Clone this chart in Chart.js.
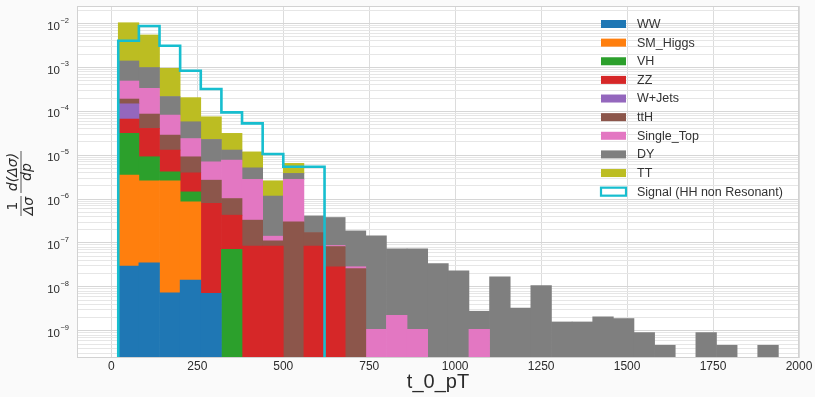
<!DOCTYPE html>
<html>
<head>
<meta charset="utf-8">
<script src="https://cdn.jsdelivr.net/npm/chart.js@4.4.0/dist/chart.umd.min.js"></script>
<style>
    html, body { margin: 0; padding: 0; background: #fafafa; }
    #wrap { width: 815px; height: 397px; }
</style>
</head>
<body>
<div id="wrap"><canvas id="myChart" width="815" height="397"></canvas></div>
<script>
/* t_0_pT: stacked background histograms + signal outline, log y */
const edges = [20, 80, 140, 200, 260, 320, 380, 440, 500, 560, 620, 680, 740, 800, 860, 920, 980,
    1040, 1100, 1160, 1220, 1280, 1340, 1400, 1460, 1520, 1580, 1640, 1700, 1760, 1820, 1880, 1940];

const WW = [2.96e-8, 3.52e-8, 7.3e-9, 1.42e-8, 7.1e-9, 0, 0, 0, 0, 0, 0, 0, 0, 0, 0, 0,
    0, 0, 0, 0, 0, 0, 0, 0, 0, 0, 0, 0, 0, 0, 0, 0];
const SM_Higgs = [3.49e-6, 2.57e-6, 2.6e-6, 8.5e-7, 0, 0, 0, 0, 0, 0, 0, 0, 0, 0, 0, 0,
    0, 0, 0, 0, 0, 0, 0, 0, 0, 0, 0, 0, 0, 0, 0, 0];
const VH = [2.79e-5, 6.6e-6, 1.57e-6, 5.95e-7, 0, 7.2e-8, 0, 0, 0, 0, 0, 0, 0, 0, 0, 0,
    0, 0, 0, 0, 0, 0, 0, 0, 0, 0, 0, 0, 0, 0, 0, 0];
const ZZ = [3.51e-5, 3.16e-5, 8.9e-6, 2.5e-6, 7.9e-7, 3.58e-7, 8.45e-8, 8.45e-8, 0, 8.45e-8, 2.85e-8, 0, 0, 0, 0, 0,
    0, 0, 0, 0, 0, 0, 0, 0, 0, 0, 0, 0, 0, 0, 0, 0];
const WJets = [8.15e-5, 0, 0, 0, 0, 0, 0, 0, 0, 0, 0, 0, 0, 0, 0, 0,
    0, 0, 0, 0, 0, 0, 0, 0, 0, 0, 0, 0, 0, 0, 0, 0];
const ttH = [4.2e-5, 4.57e-5, 1.56e-5, 5.23e-6, 1.9e-6, 6.0e-7, 2.47e-7, 2.75e-8, 3.03e-7, 8.85e-8, 5.47e-8, 2.6e-8, 0, 0, 0, 0,
    0, 0, 0, 0, 0, 0, 0, 0, 0, 0, 0, 0, 0, 0, 0, 0];
const Single_Top = [2.99e-4, 2.47e-4, 5.33e-5, 1.47e-5, 4.36e-6, 6.7e-6, 2.48e-6, 3.1e-8, 2.51e-6, 0, 4.5e-9, 2.8e-9, 1.08e-9, 2.26e-9, 1.08e-9, 0,
    0, 1.08e-9, 0, 0, 0, 0, 0, 0, 0, 0, 0, 0, 0, 0, 0, 0];
const DY = [9.11e-4, 6.6e-4, 1.35e-4, 3.38e-5, 1.58e-5, 5.37e-6, 2.34e-6, 1.03e-6, 1.04e-6, 2.42e-7, 2.93e-7, 1.6e-7, 1.44e-7, 7.1e-8, 7.22e-8, 3.41e-8,
    2.31e-8, 1.71e-9, 1.69e-8, 3.31e-9, 1.07e-8, 1.59e-9, 1.59e-9, 2.07e-9, 1.9e-9, 9.1e-10, 4.68e-10, 0, 9.1e-10, 4.68e-10, 0, 4.68e-10];
const TT = [9.0e-3, 4.48e-3, 7.36e-4, 1.47e-4, 5.21e-5, 1.83e-5, 6.75e-6, 1.44e-6, 2.65e-6, 0, 0, 0, 0, 0, 0, 0,
    0, 0, 0, 0, 0, 0, 0, 0, 0, 0, 0, 0, 0, 0, 0, 0];
// signal only fills the first 10 bins
const signal = [4.05e-3, 8.77e-3, 3.12e-3, 8.39e-4, 3.21e-4, 9.44e-5, 5.31e-5, 1.06e-5, 5.43e-6, 5.43e-6];

const names = ['WW', 'SM_Higgs', 'VH', 'ZZ', 'W+Jets', 'ttH', 'Single_Top', 'DY', 'TT'];
const series = [WW, SM_Higgs, VH, ZZ, WJets, ttH, Single_Top, DY, TT];
const colors = ['#1f77b4', '#ff7f0e', '#2ca02c', '#d62728', '#9467bd', '#8c564b', '#e377c2', '#7f7f7f', '#bcbd22'];
const signalName = 'Signal (HH non Resonant)';
const signalColor = '#17becf';

const xTicks = [0, 250, 500, 750, 1000, 1250, 1500, 1750, 2000];
const yDecades = [-9, -8, -7, -6, -5, -4, -3, -2];
const X_MIN = -100, X_MAX = 2000;
const Y_MIN = 2.4e-10, Y_MAX = 2.5e-2;

const centers = [];
for (let i = 0; i < edges.length - 1; i++) {
    centers.push((edges[i] + edges[i + 1]) / 2);
}

const datasets = series.map((vals, k) => ({
    type: 'bar',
    label: names[k],
    data: vals.map((v, i) => ({x: centers[i], y: v > 0 ? v : null})),
    backgroundColor: colors[k],
    borderWidth: 0,
    barPercentage: 1,
    categoryPercentage: 1,
    order: 1
}));

// step outline, dropping to the axis floor at both ends
const signalPts = [{x: edges[0], y: Y_MIN}];
for (let i = 0; i < signal.length; i++) {
    signalPts.push({x: edges[i], y: signal[i]});
}
signalPts.push({x: edges[signal.length], y: Y_MIN});

datasets.push({
    type: 'line',
    label: signalName,
    data: signalPts,
    borderColor: signalColor,
    borderWidth: 2.6,
    pointRadius: 0,
    stepped: true,
    fill: false,
    stack: 'signal',
    order: 0
});

const FONT = '"Liberation Sans", Arial, sans-serif';
const TEXT = '#2b2b2b';

const decor = {
    id: 'decor',
    beforeDraw(chart) {
        const c = chart.ctx, a = chart.chartArea;
        c.save();
        c.fillStyle = '#fafafa';
        c.fillRect(0, 0, chart.width, chart.height);
        c.fillStyle = '#ffffff';
        c.fillRect(a.left, a.top, a.right - a.left, a.bottom - a.top);
        c.restore();
    },
    afterDraw(chart) {
        const c = chart.ctx, a = chart.chartArea;
        const xs = chart.scales.x, ys = chart.scales.y;
        c.save();
        // frame
        c.strokeStyle = '#d2d2d2';
        c.lineWidth = 1;
        c.strokeRect(a.left + 0.5, a.top + 0.5, a.right - a.left - 1, a.bottom - a.top - 1);

        // x tick labels
        c.fillStyle = TEXT;
        c.font = '12px ' + FONT;
        c.textAlign = 'center';
        c.textBaseline = 'middle';
        xTicks.forEach(v => c.fillText(String(v), xs.getPixelForValue(v), 367));

        // y tick labels 10^n
        yDecades.forEach(e => {
            const y = ys.getPixelForValue(Math.pow(10, e));
            const exp = '\u2212' + Math.abs(e);
            c.textAlign = 'right';
            c.font = '7.5px ' + FONT;
            const ew = c.measureText(exp).width;
            c.fillText(exp, 69, y - 3);
            c.font = '11.5px ' + FONT;
            c.fillText('10', 68.5 - ew, y + 3);
        });

        // x title
        c.font = '20px ' + FONT;
        c.textAlign = 'center';
        c.textBaseline = 'alphabetic';
        c.fillText('t_0_pT', (a.left + a.right) / 2, 388);

        // y title: 1/Δσ · dΔσ/dp
        c.translate(21, 184);
        c.rotate(-Math.PI / 2);
        c.strokeStyle = TEXT;
        c.lineWidth = 0.8;
        c.font = '14px "DejaVu Sans", sans-serif';
        c.fillText('1', -22, -4);
        c.font = 'italic 14px "DejaVu Sans", sans-serif';
        c.fillText('Δσ', -22, 12);
        c.beginPath(); c.moveTo(-32, 0); c.lineTo(-12, 0); c.stroke();
        c.fillText('d(Δσ)', 12, -4);
        c.fillText('dp', 12, 10);
        c.beginPath(); c.moveTo(-9, 0); c.lineTo(33, 0); c.stroke();
        c.restore();

        // legend
        c.save();
        c.font = '12.5px ' + FONT;
        c.textAlign = 'left';
        c.textBaseline = 'middle';
        const rows = names.length + 1;
        for (let k = 0; k < rows; k++) {
            const y = 24 + k * 18.63;
            if (k < names.length) {
                c.fillStyle = colors[k];
                c.fillRect(601, y - 4, 25, 8);
            } else {
                c.fillStyle = '#ffffff';
                c.fillRect(601, y - 4, 25, 8);
                c.strokeStyle = signalColor;
                c.lineWidth = 2.2;
                c.strokeRect(601, y - 4, 25, 8);
            }
            c.fillStyle = '#333333';
            c.fillText(k < names.length ? names[k] : signalName, 637, y + 0.5);
        }
        c.restore();
    }
};

const ctx = document.getElementById('myChart').getContext('2d');
const myChart = new Chart(ctx, {
    type: 'bar',
    data: {datasets: datasets},
    options: {
        responsive: false,
        animation: false,
        layout: {padding: {left: 77, right: 16, top: 6, bottom: 39}},
        plugins: {
            legend: {display: false},
            tooltip: {enabled: false}
        },
        scales: {
            x: {
                type: 'linear',
                min: X_MIN,
                max: X_MAX,
                stacked: true,
                offset: false,
                afterBuildTicks: s => { s.ticks = xTicks.map(v => ({value: v})); },
                ticks: {display: false},
                grid: {color: '#dcdcdc', lineWidth: 1, drawTicks: false, offset: false},
                border: {display: false}
            },
            y: {
                type: 'logarithmic',
                min: Y_MIN,
                max: Y_MAX,
                stacked: true,
                afterBuildTicks: s => {
                    const t = [];
                    for (let e = -10; e <= -2; e++) {
                        for (let m = 1; m <= 9; m++) {
                            const v = m * Math.pow(10, e);
                            if (v >= Y_MIN && v <= Y_MAX) t.push({value: v, major: m === 1});
                        }
                    }
                    s.ticks = t;
                },
                ticks: {display: false},
                grid: {
                    color: c => (c.tick && c.tick.major) ? '#d6d6d6' : '#e6e6e6',
                    lineWidth: 1,
                    drawTicks: false
                },
                border: {display: false}
            }
        }
    },
    plugins: [decor]
});
</script>
</body>
</html>
